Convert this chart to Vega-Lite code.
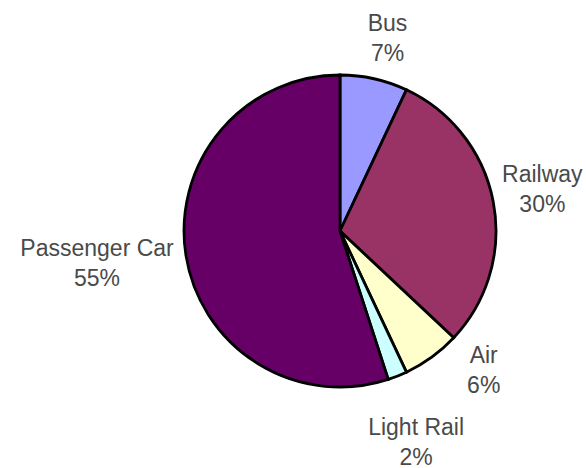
{
  "$schema": "https://vega.github.io/schema/vega-lite/v6.json",
  "width": 492,
  "height": 462,
  "autosize": {"type": "none"},
  "padding": {"left": 94, "top": 0, "right": 0, "bottom": 6},
  "background": "white",
  "config": {"view": {"stroke": null}},
  "data": {
    "values": [
      {"category": "Bus", "share": 7, "rank": 1, "label": "Bus\n7%"},
      {"category": "Railway", "share": 30, "rank": 2, "label": "Railway\n30%"},
      {"category": "Air", "share": 6, "rank": 3, "label": "Air\n6%"},
      {"category": "Light Rail", "share": 2, "rank": 4, "label": "Light Rail\n2%"},
      {"category": "Passenger Car", "share": 55, "rank": 5, "label": "Passenger Car\n55%"}
    ]
  },
  "encoding": {
    "theta": {"field": "share", "type": "quantitative", "stack": true},
    "order": {"field": "rank", "type": "ordinal"}
  },
  "layer": [
    {
      "mark": {"type": "arc", "radius": 156, "stroke": "black", "strokeWidth": 2.8},
      "encoding": {
        "color": {
          "field": "category",
          "type": "nominal",
          "scale": {
            "domain": ["Bus", "Railway", "Air", "Light Rail", "Passenger Car"],
            "range": ["#9999ff", "#993366", "#ffffcc", "#ccffff", "#660066"]
          },
          "legend": null
        }
      }
    },
    {
      "mark": {"type": "text", "radius": 195, "dx": 5, "dy": -17, "fontSize": 23, "font": "Liberation Sans", "color": "#4a4a4a", "lineBreak": "\n", "lineHeight": 30, "align": "center", "baseline": "middle"},
      "encoding": {
        "detail": {"field": "category", "type": "nominal"},
        "text": {"condition": {"test": "datum.category === 'Bus'", "field": "label", "type": "nominal"}, "value": ""}
      }
    },
    {
      "mark": {"type": "text", "radius": 206, "dx": 0, "dy": -17, "fontSize": 23, "font": "Liberation Sans", "color": "#4a4a4a", "lineBreak": "\n", "lineHeight": 30, "align": "center", "baseline": "middle"},
      "encoding": {
        "detail": {"field": "category", "type": "nominal"},
        "text": {"condition": {"test": "datum.category === 'Railway'", "field": "label", "type": "nominal"}, "value": ""}
      }
    },
    {
      "mark": {"type": "text", "radius": 202, "dx": 25, "dy": -38, "fontSize": 23, "font": "Liberation Sans", "color": "#4a4a4a", "lineBreak": "\n", "lineHeight": 30, "align": "center", "baseline": "middle"},
      "encoding": {
        "detail": {"field": "category", "type": "nominal"},
        "text": {"condition": {"test": "datum.category === 'Air'", "field": "label", "type": "nominal"}, "value": ""}
      }
    },
    {
      "mark": {"type": "text", "radius": 223, "dx": -6, "dy": -10, "fontSize": 23, "font": "Liberation Sans", "color": "#4a4a4a", "lineBreak": "\n", "lineHeight": 30, "align": "center", "baseline": "middle"},
      "encoding": {
        "detail": {"field": "category", "type": "nominal"},
        "text": {"condition": {"test": "datum.category === 'Light Rail'", "field": "label", "type": "nominal"}, "value": ""}
      }
    },
    {
      "mark": {"type": "text", "radius": 247, "dx": 1, "dy": -21, "fontSize": 23, "font": "Liberation Sans", "color": "#4a4a4a", "lineBreak": "\n", "lineHeight": 30, "align": "center", "baseline": "middle"},
      "encoding": {
        "detail": {"field": "category", "type": "nominal"},
        "text": {"condition": {"test": "datum.category === 'Passenger Car'", "field": "label", "type": "nominal"}, "value": ""}
      }
    }
  ]
}
